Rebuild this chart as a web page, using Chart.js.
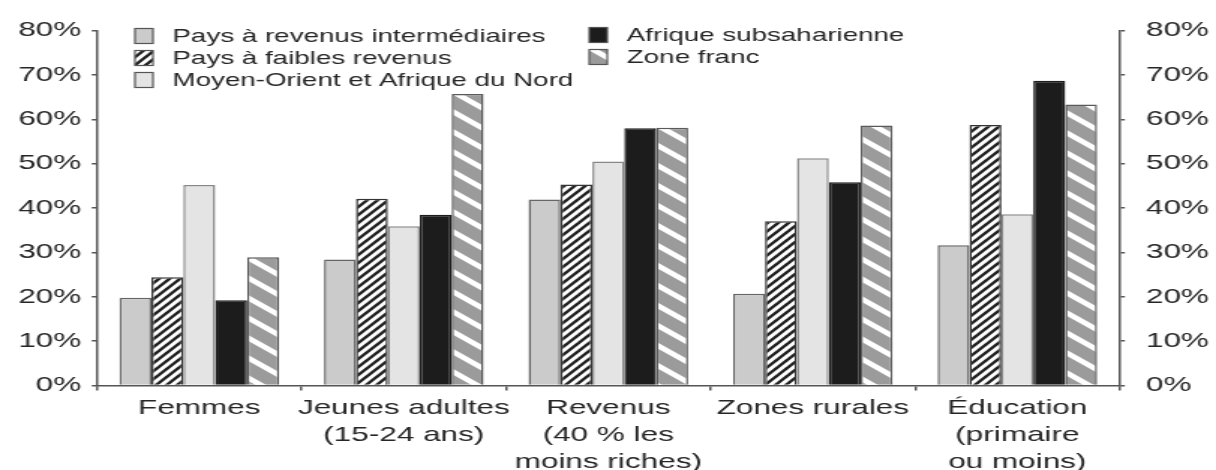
<!DOCTYPE html>
<html>
<head>
<meta charset="utf-8">
<script src="https://cdn.jsdelivr.net/npm/chart.js@4.4.0/dist/chart.umd.min.js"></script>
<style>
  html, body { margin: 0; padding: 0; background: #fff; overflow: hidden; }
  #wrap { width: 1216px; height: 470px; overflow: hidden; }
  /* the source picture is stretched sideways, so draw narrow and stretch */
  #chart { transform: scaleX(1.4994); transform-origin: 0 0; }
</style>
</head>
<body>
<div id="wrap"><canvas id="chart" width="811" height="470"></canvas></div>
<script>
const categories = [
  "Femmes",
  ["Jeunes adultes", "(15-24 ans)"],
  ["Revenus", "(40 % les", "moins riches)"],
  "Zones rurales",
  ["Éducation", "(primaire", "ou moins)"],
];
const seriesNames = [
  "Pays à revenus intermédiaires",
  "Pays à faibles revenus",
  "Moyen-Orient et Afrique du Nord",
  "Afrique subsaharienne",
  "Zone franc",
];
const revenusIntermediaires = [19.8, 28.4, 41.9, 20.7, 31.6];
const faiblesRevenus = [24.4, 42.1, 45.3, 37.0, 58.7];
const moyenOrient = [45.2, 35.9, 50.5, 51.2, 38.6];
const afriqueSubsaharienne = [19.2, 38.5, 58.0, 45.8, 68.7];
const zoneFranc = [28.9, 65.7, 58.1, 58.6, 63.3];
const yMin = 0;
const yMax = 80;
const yStep = 10;

const FONT = '"Liberation Sans", Arial, Helvetica, sans-serif';
const TEXT = "#262626";

// tileable diagonal stripes; dir 1 = "\" , dir -1 = "/"
function stripes(bg, fg, w, h, lw, dir) {
  const c = document.createElement("canvas");
  c.width = w;
  c.height = h;
  const g = c.getContext("2d");
  g.fillStyle = bg;
  g.fillRect(0, 0, w, h);
  g.strokeStyle = fg;
  g.lineWidth = lw;
  for (let k = -2; k <= 3; k++) {
    g.beginPath();
    if (dir > 0) {
      g.moveTo(-w, -h + k * h);
      g.lineTo(2 * w, 2 * h + k * h);
    } else {
      g.moveTo(-w, h + k * h);
      g.lineTo(2 * w, -2 * h + k * h);
    }
    g.stroke();
  }
  return g.createPattern(c, "repeat");
}

const ctx = document.getElementById("chart").getContext("2d");

const fills = [
  "#cbcbcb",
  stripes("#ffffff", "#1e1e1e", 7, 8, 2.4, -1),
  "#e4e4e4",
  "#1c1c1c",
  stripes("#9b9b9b", "#ffffff", 24, 20, 4.6, 1),
];
const borders = ["#666666", "#333333", "#888888", "#1c1c1c", "#5a5a5a"];
const values = [revenusIntermediaires, faiblesRevenus, moyenOrient, afriqueSubsaharienne, zoneFranc];

// legend sits inside the plot, two columns
const legendSpots = [
  [90, 36], [90, 58], [90, 80],
  [393, 35], [393, 57],
];
const gridLegend = {
  id: "gridLegend",
  afterDraw(chart) {
    const c = chart.ctx;
    c.save();
    chart.data.datasets.forEach((ds, i) => {
      const [x, y] = legendSpots[i];
      c.fillStyle = ds.backgroundColor;
      c.fillRect(x, y - 7.5, 12, 15);
      c.strokeStyle = "#555";
      c.lineWidth = 1.2;
      c.strokeRect(x, y - 7.5, 12, 15);
      c.fillStyle = TEXT;
      c.font = "18.5px " + FONT;
      c.textBaseline = "middle";
      c.textAlign = "left";
      c.fillText(ds.label, x + 25, y + 1);
    });
    c.restore();
  },
};

const yAxis = (position, width, pad) => ({
  type: "linear",
  position,
  min: yMin,
  max: yMax,
  afterFit: (scale) => { scale.width = width; },
  border: { display: true, color: "#555", width: 1.5 },
  grid: { display: true, drawOnChartArea: false, tickLength: 3.5, color: "#555", lineWidth: 1.5 },
  ticks: {
    stepSize: yStep,
    padding: pad,
    color: TEXT,
    font: { family: FONT, size: 21 },
    callback: (v) => v + "%",
  },
});

new Chart(ctx, {
  type: "bar",
  data: {
    labels: categories,
    datasets: seriesNames.map((name, i) => ({
      label: name,
      data: values[i],
      backgroundColor: fills[i],
      borderColor: borders[i],
      borderWidth: 1.5,
      yAxisID: "y",
    })),
  },
  options: {
    responsive: false,
    animation: false,
    events: [],
    layout: { padding: { top: 30.5, left: 0, right: 0, bottom: 0 } },
    datasets: { bar: { categoryPercentage: 0.78, barPercentage: 1.0 } },
    plugins: { legend: { display: false }, tooltip: { enabled: false } },
    scales: {
      x: {
        afterFit: (scale) => { scale.height = 84.5; },
        border: { display: true, color: "#555", width: 1.5 },
        grid: { display: true, drawOnChartArea: false, tickLength: 5, color: "#555", lineWidth: 1.5 },
        ticks: {
          padding: 4,
          color: TEXT,
          maxRotation: 0,
          autoSkip: false,
          font: { family: FONT, size: 21, lineHeight: 1.29 },
        },
      },
      y: yAxis("left", 64.7, 7),
      y2: yAxis("right", 64.3, 14),
    },
  },
  plugins: [gridLegend],
});
</script>
</body>
</html>
